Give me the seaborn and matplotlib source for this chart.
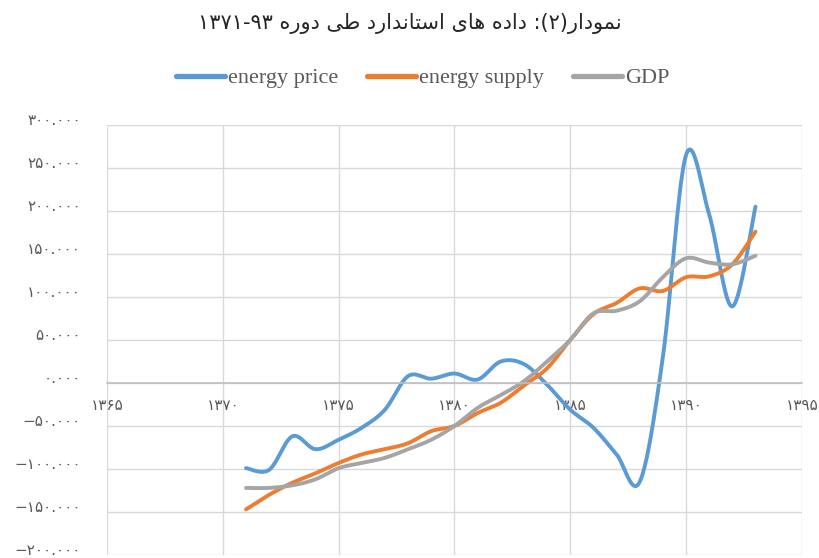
import numpy as np
import pandas as pd
import matplotlib
matplotlib.use("Agg")
import matplotlib.pyplot as plt
from matplotlib.lines import Line2D
from matplotlib.ticker import FuncFormatter
from matplotlib.transforms import ScaledTranslation
import seaborn as sns

# values (standardised data, 1371-1393)
years = list(range(1371, 1394))
energy_price = [-99, -101, -62, -77, -66, -52, -31, 8, 5, 11, 4, 25,
                22, -2, -31, -52, -83, -115, 30, 265, 196, 89, 205]
energy_supply = [-147, -130, -116, -105, -93, -83, -77, -70, -56, -50, -35, -23,
                 -3, 17, 50, 80, 93, 110, 107, 123, 124, 138, 176]
gdp = [-122, -122, -119, -112, -99, -93, -87, -77, -66, -50, -29, -14,
       2, 25, 50, 81, 84, 95, 123, 145, 140, 138, 148]

series_names = ["energy price", "energy supply", "GDP"]
colors = ["#5B9BD5", "#ED7D31", "#A5A5A5"]
x_ticks = [1365, 1370, 1375, 1380, 1385, 1390, 1395]

FA_DIGITS = str.maketrans("0123456789-", "۰۱۲۳۴۵۶۷۸۹−")


def to_fa(s):
    return str(s).translate(FA_DIGITS)


def smooth(xs, ys, n=24):
    # Excel style smoothed line: bezier segments through every data point
    xs = np.asarray(xs, float)
    ys = np.asarray(ys, float)
    out_x, out_y = [], []
    m = len(xs)
    t = np.linspace(0, 1, n)
    for i in range(m - 1):
        i0 = max(i - 1, 0)
        i3 = min(i + 2, m - 1)
        for arr, out in ((xs, out_x), (ys, out_y)):
            p0, p1, p2, p3 = arr[i0], arr[i], arr[i + 1], arr[i3]
            c1 = p1 + (p2 - p0) / 6
            c2 = p2 - (p3 - p1) / 6
            seg = ((1 - t) ** 3 * p1 + 3 * (1 - t) ** 2 * t * c1
                   + 3 * (1 - t) * t ** 2 * c2 + t ** 3 * p2)
            out.extend(seg if i == 0 else seg[1:])
    return out_x, out_y


frames = []
for name, vals in zip(series_names, [energy_price, energy_supply, gdp]):
    sx, sy = smooth(years, vals)
    frames.append(pd.DataFrame({"year": sx, "value": sy, "series": name}))
df = pd.concat(frames, ignore_index=True)

sns.set_theme(style="white")
plt.rcParams["font.family"] = ["DejaVu Sans"]

fig, ax = plt.subplots(figsize=(8.19, 5.58), dpi=100)
fig.subplots_adjust(left=0.1307, right=0.979, bottom=0.0054, top=0.776)

sns.lineplot(data=df, x="year", y="value", hue="series", hue_order=series_names,
             palette=dict(zip(series_names, colors)), sort=False, estimator=None,
             linewidth=2.8, legend=False, ax=ax, solid_capstyle="round")

ax.set_xlim(1365, 1395)
ax.set_ylim(-200, 300)
ax.set_xticks(x_ticks)
ax.set_xticklabels([to_fa(x) for x in x_ticks])
ax.set_yticks(np.arange(-200, 301, 50))
ax.yaxis.set_major_formatter(FuncFormatter(lambda v, p: to_fa(f"{v:.3f}")))
ax.set_xlabel("")
ax.set_ylabel("")

ax.grid(True, color="#D9D9D9", linewidth=1)
ax.set_axisbelow(True)
for s in ["top", "right", "left"]:
    ax.spines[s].set_visible(False)
ax.spines["bottom"].set_position(("data", 0))
ax.spines["bottom"].set_color("#BFBFBF")
ax.spines["bottom"].set_linewidth(1.2)
ax.tick_params(axis="y", length=0, pad=19, labelsize=11, labelcolor="#595959")
ax.tick_params(axis="x", length=0, pad=11, labelsize=11, labelcolor="#595959")

# y labels sit a little above their gridlines, as in the original
shift = ScaledTranslation(0, 6 / 100, fig.dpi_scale_trans)
for tick in ax.yaxis.get_major_ticks():
    tick.label1.set_transform(tick.label1.get_transform() + shift)

# title: persian text written in visual order with presentation forms
nomudar = "\uFEAD\uFE8D\uFEA9\uFEEE\uFEE4\uFEE7"
dade = "\uFEE9\uFEA9\uFE8D\uFEA9"
hay = "\uFEEF\uFE8E\uFEEB"
standard = "\uFEA9\uFEAD\uFE8D\uFEAA\uFEE7\uFE8E\uFE98\uFEB3\uFE8D"
tei = "\uFEF0\uFEC3"
dore = "\uFEE9\uFEAD\uFEED\uFEA9"
title = ("۱۳۷۱-۹۳ " + dore + " " + tei + " " + standard + " " + hay + " "
         + dade + " :(۲)" + nomudar)
fig.text(0.5, 0.958, title, ha="center", va="center", fontsize=15,
         color="#262626", family=["DejaVu Sans"])

handles = [Line2D([0], [0], color=c, lw=3.8, solid_capstyle="round") for c in colors]
fig.legend(handles, series_names, loc="center", bbox_to_anchor=(0.516, 0.86),
           ncol=3, frameon=False, handlelength=2.2, handletextpad=0.15,
           columnspacing=1.3, prop={"family": "Liberation Serif", "size": 16},
           labelcolor="#595959")

fig.savefig("out.png", dpi=100)
